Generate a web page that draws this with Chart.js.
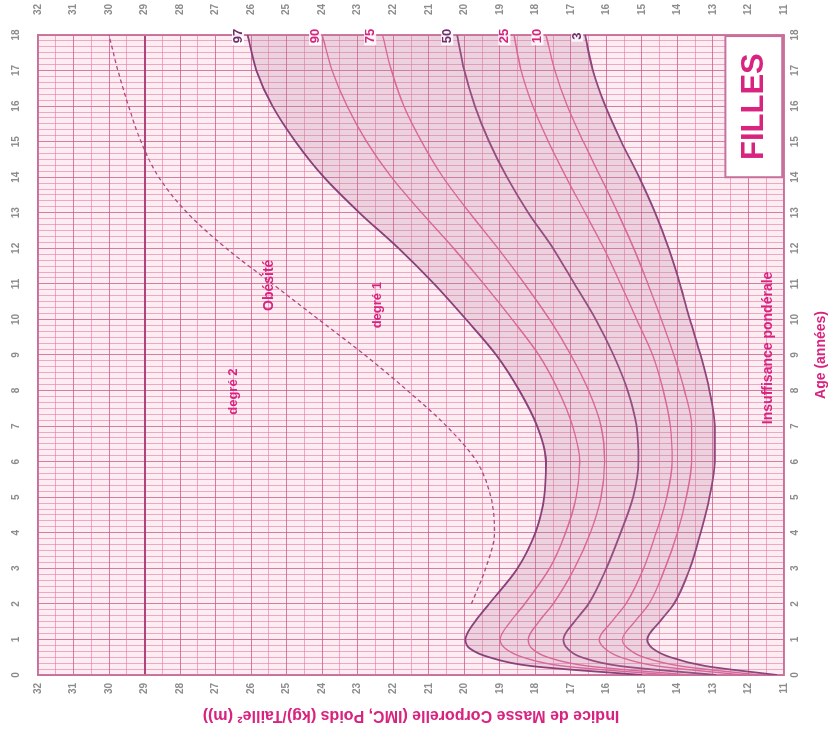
<!DOCTYPE html>
<html>
<head>
<meta charset="utf-8">
<script src="https://cdn.jsdelivr.net/npm/chart.js@4.4.1/dist/chart.umd.min.js"></script>
<style>
  html, body { margin: 0; padding: 0; background: #fff; overflow: hidden; }
  /* the chart is drawn upright (age across, BMI up) and turned a quarter turn left */
  #wrap { position: absolute; left: 49px; top: -49px; width: 736px; height: 834px; transform: rotate(-90deg); }
</style>
</head>
<body>
<div id="wrap"><canvas id="bmi"></canvas></div>
<script>
// ages (years) and BMI percentiles
const ages = [0, 0.25, 0.5, 0.75, 1, 1.5, 2, 3, 4, 5, 6, 7, 8, 9, 10, 11, 12, 13, 14, 15, 16, 17, 18];
const p97 = [15.0, 18.1, 19.3, 19.85, 19.97, 19.7, 19.3, 18.5, 18.0, 17.75, 17.7, 17.95, 18.45, 19.1, 19.95, 20.85, 21.85, 22.95, 23.95, 24.75, 25.4, 25.85, 26.1];
const p90 = [14.2, 17.2, 18.35, 18.85, 18.99, 18.7, 18.3, 17.6, 17.15, 16.85, 16.75, 16.95, 17.35, 17.9, 18.65, 19.45, 20.3, 21.2, 22.05, 22.75, 23.3, 23.72, 24.0];
const p75 = [13.65, 16.5, 17.65, 18.1, 18.2, 17.9, 17.5, 16.9, 16.45, 16.15, 16.05, 16.15, 16.5, 17.0, 17.6, 18.3, 19.05, 19.85, 20.6, 21.2, 21.7, 22.05, 22.3];
const p50 = [12.9, 15.6, 16.7, 17.1, 17.21, 16.9, 16.5, 16.0, 15.6, 15.25, 15.1, 15.15, 15.4, 15.8, 16.3, 16.9, 17.5, 18.2, 18.8, 19.3, 19.7, 20.0, 20.2];
const p25 = [12.15, 14.55, 15.6, 16.05, 16.2, 15.85, 15.45, 14.95, 14.6, 14.3, 14.15, 14.2, 14.4, 14.7, 15.15, 15.6, 16.07, 16.6, 17.13, 17.63, 18.07, 18.4, 18.6];
const p10 = [11.7, 13.9, 14.95, 15.4, 15.55, 15.2, 14.8, 14.35, 14.0, 13.75, 13.6, 13.6, 13.8, 14.1, 14.45, 14.83, 15.23, 15.68, 16.16, 16.65, 17.1, 17.45, 17.7];
const p3  = [11.2, 13.2, 14.2, 14.7, 14.85, 14.5, 14.1, 13.65, 13.35, 13.1, 12.95, 12.95, 13.1, 13.35, 13.65, 13.93, 14.25, 14.63, 15.08, 15.58, 16.03, 16.38, 16.6];

// dashed obesity degree 2 line
const obeseAges = [2, 3, 4, 5, 6, 7, 8, 9, 10, 11, 12, 13, 14, 15, 16, 17, 18];
const obese2 = [19.8, 19.4, 19.15, 19.25, 19.65, 20.5, 21.6, 22.8, 24.1, 25.4, 26.7, 27.8, 28.6, 29.1, 29.45, 29.75, 30.0];

const pctNames = ['97', '90', '75', '50', '25', '10', '3'];
const pctLabelBmi = [26.37, 24.2, 22.65, 20.48, 18.87, 17.94, 16.82];
const ageMin = 0, ageMax = 18;
const bmiMin = 11, bmiMax = 32;

const DARK = '#8a4079';
const PINK = '#e2609a';
const MAGENTA = '#d8237f';
const pctColors = [DARK, PINK, PINK, DARK, PINK, PINK, DARK];

const pts = (xs, ys) => xs.map((a, i) => ({ x: a, y: ys[i] }));
const series = [p97, p90, p75, p50, p25, p10, p3];

const datasets = series.map((s, i) => ({
  label: 'P' + pctNames[i],
  data: pts(ages, s),
  borderColor: pctColors[i],
  borderWidth: pctColors[i] === DARK ? 1.8 : 1.4,
  pointRadius: 0,
  cubicInterpolationMode: 'monotone',
  fill: i === 0 ? 6 : false,
  backgroundColor: 'rgba(185, 125, 155, 0.24)'
}));
datasets.push({
  label: 'Obésité degré 2',
  data: pts(obeseAges, obese2),
  borderColor: '#b04880',
  borderWidth: 1.3,
  borderDash: [4, 3],
  pointRadius: 0,
  cubicInterpolationMode: 'monotone',
  fill: false
});

const ageGrid = [];
for (let k = 0; k <= 108; k++) ageGrid.push({ value: k / 6 });
const bmiGrid = [];
for (let k = 0; k <= 42; k++) bmiGrid.push({ value: bmiMin + k / 2 });

const tickFont = { family: 'Liberation Sans, Arial, sans-serif', size: 10, weight: 'bold' };

function gridColor(c) {
  const v = c.tick.value;
  if (v === 29) return 'rgba(170, 60, 115, 0.95)';
  return Number.isInteger(v) ? 'rgba(200, 85, 135, 0.75)' : 'rgba(232, 120, 165, 0.6)';
}
function gridWidth(c) {
  return c.tick.value === 29 ? 2 : 1;
}
const intLabel = v => Number.isInteger(v) ? String(v) : '';

const decor = {
  id: 'decor',
  beforeDraw(chart) {
    const { ctx, chartArea: a } = chart;
    ctx.save();
    ctx.fillStyle = '#fcedf3';
    ctx.fillRect(a.left, a.top, a.right - a.left, a.bottom - a.top);
    ctx.restore();
  },
  afterDatasetsDraw(chart) {
    const { ctx } = chart;
    const x = chart.scales.x, y = chart.scales.y;
    ctx.save();
    ctx.textAlign = 'center';
    ctx.textBaseline = 'middle';

    // percentile names at the end of each curve
    ctx.font = 'bold 13px Liberation Sans, Arial, sans-serif';
    pctNames.forEach((n, i) => {
      const px = x.getPixelForValue(17.97), py = y.getPixelForValue(pctLabelBmi[i]);
      const w = ctx.measureText(n).width + 4;
      ctx.fillStyle = 'rgba(255,255,255,0.85)';
      ctx.fillRect(px - w / 2, py - 6, w, 12);
      ctx.fillStyle = pctColors[i] === DARK ? '#6e2f6a' : MAGENTA;
      ctx.fillText(n, px, py);
    });

    // zone names
    ctx.fillStyle = MAGENTA;
    ctx.font = 'bold 14px Liberation Sans, Arial, sans-serif';
    ctx.fillText('Obésité', x.getPixelForValue(10.96), y.getPixelForValue(25.5));
    ctx.font = 'bold 13px Liberation Sans, Arial, sans-serif';
    ctx.fillText('degré 1', x.getPixelForValue(10.4), y.getPixelForValue(22.45));
    ctx.fillText('degré 2', x.getPixelForValue(7.97), y.getPixelForValue(26.5));
    ctx.font = 'bold 14px Liberation Sans, Arial, sans-serif';
    ctx.fillText('Insuffisance pondérale', x.getPixelForValue(9.2), y.getPixelForValue(11.44));

    // FILLES box
    const bx0 = x.getPixelForValue(14.0), bx1 = x.getPixelForValue(17.97);
    const by0 = y.getPixelForValue(12.65), by1 = y.getPixelForValue(11.05);
    ctx.fillStyle = '#ffffff';
    ctx.fillRect(bx0, by0, bx1 - bx0, by1 - by0);
    ctx.strokeStyle = '#c8709c';
    ctx.lineWidth = 2;
    ctx.strokeRect(bx0, by0, bx1 - bx0, by1 - by0);
    ctx.fillStyle = MAGENTA;
    ctx.font = 'bold 31px Liberation Sans, Arial, sans-serif';
    ctx.fillText('FILLES', (bx0 + bx1) / 2, (by0 + by1) / 2 + 1);
    ctx.restore();
  }
};

new Chart(document.getElementById('bmi').getContext('2d'), {
  type: 'line',
  data: { datasets },
  plugins: [decor],
  options: {
    responsive: true,
    maintainAspectRatio: false,
    animation: false,
    layout: { padding: 0 },
    plugins: { legend: { display: false }, tooltip: { enabled: false } },
    scales: {
      x: {
        type: 'linear', position: 'bottom', min: ageMin, max: ageMax,
        afterBuildTicks: s => { s.ticks = ageGrid.map(t => ({ ...t })); },
        afterFit: s => { s.height = 50; },
        ticks: { autoSkip: false, maxRotation: 0, padding: 5, color: '#8c8c8c', font: tickFont, callback: intLabel },
        grid: { color: gridColor, lineWidth: gridWidth, drawTicks: false },
        border: { display: true, color: '#c8709c', width: 1.5 },
        title: { display: true, text: 'Age (années)', color: MAGENTA, padding: { top: 0, bottom: 4 },
                 font: { family: 'Liberation Sans, Arial, sans-serif', size: 14, weight: 'bold' } }
      },
      x2: {
        type: 'linear', position: 'top', min: ageMin, max: ageMax,
        afterBuildTicks: s => { s.ticks = ageGrid.map(t => ({ ...t })); },
        afterFit: s => { s.height = 38; },
        ticks: { autoSkip: false, maxRotation: 0, padding: 8, color: '#8c8c8c', font: tickFont, callback: intLabel },
        grid: { display: false },
        border: { display: true, color: '#c8709c', width: 1.5 }
      },
      y: {
        type: 'linear', position: 'left', min: bmiMin, max: bmiMax,
        afterBuildTicks: s => { s.ticks = bmiGrid.map(t => ({ ...t })); },
        afterFit: s => { s.width = 61; },
        ticks: { autoSkip: false, padding: 8, color: '#8c8c8c', font: tickFont, callback: intLabel },
        grid: { color: gridColor, lineWidth: gridWidth, drawTicks: false },
        border: { display: true, color: '#c8709c', width: 1.5 },
        title: { display: true, text: 'Indice de Masse Corporelle (IMC, Poids (kg)/Taille² (m))', color: MAGENTA,
                 padding: { top: 11, bottom: 0 },
                 font: { family: 'Liberation Sans, Arial, sans-serif', size: 16, weight: 'bold' } }
      },
      y2: {
        type: 'linear', position: 'right', min: bmiMin, max: bmiMax,
        afterBuildTicks: s => { s.ticks = bmiGrid.map(t => ({ ...t })); },
        afterFit: s => { s.width = 35; },
        ticks: { autoSkip: false, padding: 12, color: '#8c8c8c', font: tickFont, callback: intLabel },
        grid: { display: false },
        border: { display: true, color: '#c8709c', width: 1.5 }
      }
    }
  }
});
</script>
</body>
</html>
